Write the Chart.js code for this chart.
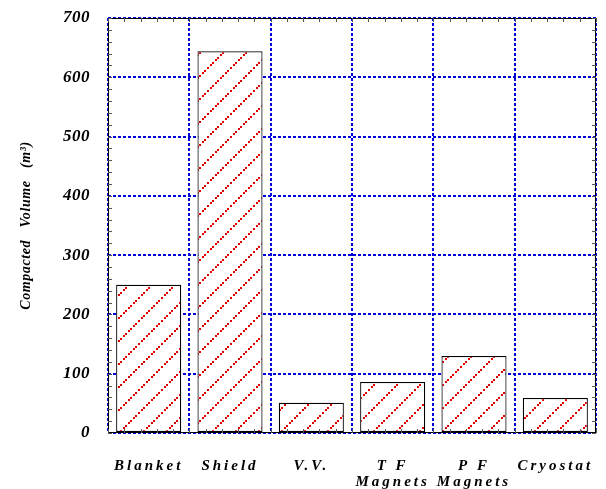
<!DOCTYPE html>
<html>
<head>
<meta charset="utf-8">
<script src="https://cdn.jsdelivr.net/npm/chart.js@4"></script>
<style>
  html, body { margin: 0; padding: 0; background: #fff; }
  #wrap { width: 606px; height: 489px; }
</style>
</head>
<body>
<div id="wrap"><canvas id="chart" width="606" height="489"></canvas></div>
<script>
const categories = ['Blanket', 'Shield', 'V.V.', ['T F', 'Magnets'], ['P F', 'Magnets'], 'Cryostat'];
const volumes = [250, 644, 51, 86, 130, 59];
const yTicks = [0, 100, 200, 300, 400, 500, 600, 700];

const serif = '"Liberation Serif", "Times New Roman", serif';

// red dotted diagonal hatch
function makeHatch() {
    const size = 23;
    const c = document.createElement('canvas');
    c.width = size;
    c.height = size;
    const g = c.getContext('2d');
    g.fillStyle = '#fff';
    g.fillRect(0, 0, size, size);
    g.fillStyle = '#e00000';
    let k = 0;
    for (let i = 0; i < size; i += (k++ % 2 ? 2 : 3)) {
        g.fillRect(i, size - i - 2, 2, 2);
    }
    return g.createPattern(c, 'repeat');
}

const frameAndTicks = {
    id: 'frameAndTicks',
    afterDatasetsDraw(chart) {
        const { ctx, chartArea: a, scales: { x, y } } = chart;
        ctx.save();
        ctx.strokeStyle = '#000';
        ctx.lineWidth = 1;
        ctx.strokeRect(a.left + 0.5, a.top + 0.5, a.right - a.left - 1, a.bottom - a.top - 1);
        ctx.strokeStyle = '#555';
        // minor ticks on left and right
        for (let v = 0; v <= 700; v += 20) {
            const py = Math.round(y.getPixelForValue(v)) + 0.5;
            ctx.beginPath();
            ctx.moveTo(a.left, py); ctx.lineTo(a.left + 4, py);
            ctx.moveTo(a.right, py); ctx.lineTo(a.right - 4, py);
            ctx.stroke();
        }
        // minor ticks top and bottom
        const step = (x.getPixelForValue(1) - x.getPixelForValue(0)) / 5;
        for (let px = a.left; px <= a.right + 0.1; px += step) {
            const p = Math.round(px) + 0.5;
            ctx.beginPath();
            ctx.moveTo(p, a.bottom); ctx.lineTo(p, a.bottom - 4);
            ctx.moveTo(p, a.top); ctx.lineTo(p, a.top + 4);
            ctx.stroke();
        }
        ctx.restore();
    }
};

// wider letter spacing for the category names and the axis title
const spacedLabels = {
    id: 'spacedLabels',
    afterLayout(chart) {
        const wrap = (s, name, spacing) => {
            const orig = s[name];
            s[name] = function (area) {
                chart.ctx.save();
                chart.ctx.letterSpacing = spacing;
                orig.call(this, area);
                chart.ctx.restore();
            };
        };
        const x = chart.scales.x, y = chart.scales.y;
        if (!x._spaced) { x._spaced = true; wrap(x, 'drawLabels', '3px'); }
        if (!y._spaced) { y._spaced = true; wrap(y, 'drawTitle', '0.6px'); wrap(y, 'drawLabels', '0.5px'); }
    }
};

new Chart(document.getElementById('chart'), {
    type: 'bar',
    data: {
        labels: categories,
        datasets: [{
            data: volumes,
            backgroundColor: makeHatch(),
            borderColor: '#000',
            borderWidth: 1.2,
            borderSkipped: false,
            categoryPercentage: 0.8,
            barPercentage: 1.0
        }]
    },
    options: {
        responsive: false,
        animation: false,
        layout: { padding: { top: 18, right: 10, left: 0, bottom: 0 } },
        plugins: { legend: { display: false }, tooltip: { enabled: false } },
        scales: {
            x: {
                grid: {
                    offset: true,
                    color: '#0000dd',
                    lineWidth: 2,
                    drawTicks: false
                },
                border: { display: false, dash: [3, 2] },
                ticks: {
                    padding: 25,
                    color: '#000',
                    maxRotation: 0,
                    autoSkip: false,
                    font: { family: serif, size: 15, style: 'italic', weight: 'bold', lineHeight: 1.05 }
                },
                afterFit(scale) {
                    scale.height = 56;
                    scale.paddingLeft = 0;
                    scale.paddingRight = 0;
                }
            },
            y: {
                min: 0,
                max: 700,
                afterBuildTicks(scale) { scale.ticks = yTicks.map(v => ({ value: v })); },
                grid: {
                    color: '#0000dd',
                    lineWidth: 2,
                    drawTicks: false
                },
                border: { display: false, dash: [3, 2] },
                ticks: {
                    padding: 18,
                    color: '#000',
                    font: { family: serif, size: 17, style: 'italic', weight: 'bold' }
                },
                title: {
                    display: true,
                    text: 'Compacted   Volume   (m³)',
                    color: '#000',
                    padding: { top: 18, bottom: 0 },
                    font: { family: serif, size: 14, style: 'italic', weight: 'bold' }
                },
                afterFit(scale) {
                    scale.width = 108;
                    scale.paddingTop = 0;
                    scale.paddingBottom = 0;
                }
            }
        }
    },
    plugins: [frameAndTicks, spacedLabels]
});
</script>
</body>
</html>
